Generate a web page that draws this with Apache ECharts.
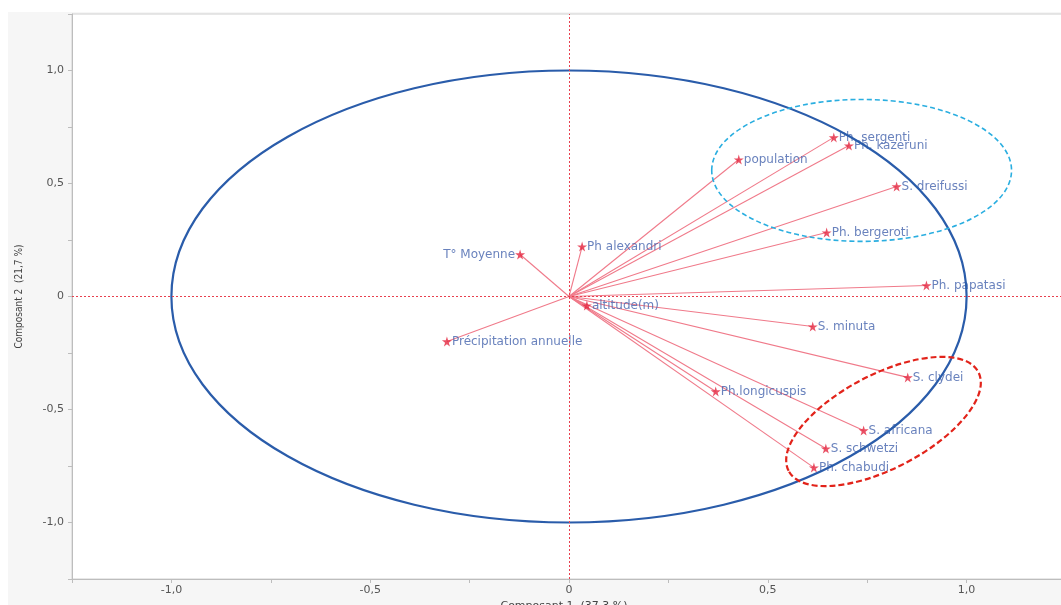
<!DOCTYPE html>
<html><head><meta charset="utf-8">
<script src="https://cdn.jsdelivr.net/npm/echarts@6/dist/echarts.min.js"></script>
<style>html,body{margin:0;padding:0;background:#fff}#c{width:1061px;height:605px}</style>
</head><body><div id="c"></div>
<script>
// Variables (loadings on components 1 and 2)
const variables = ['Ph. sergenti','Ph. kazeruni','population','S. dreifussi','Ph. bergeroti','Ph alexandri','T° Moyenne','Ph. papatasi','altitude(m)','S. minuta','Précipitation annuelle','S. clydei','Ph.longicuspis','S. africana','S. schwetzi','Ph. chabudi'];
const comp1 = [0.666, 0.704, 0.427, 0.824, 0.648, 0.033, -0.123, 0.899, 0.045, 0.613, -0.307, 0.852, 0.369, 0.741, 0.646, 0.616];
const comp2 = [0.704, 0.668, 0.606, 0.487, 0.283, 0.221, 0.186, 0.049, -0.040, -0.133, -0.199, -0.358, -0.420, -0.593, -0.673, -0.757];
const labelsOnLeft = ['T° Moyenne'];
// Ellipses: [centerX, centerY, radiusX (x units), radiusY (y units), rotation deg]
const unitCircle = [0, 0, 1, 1, 0];
const groupTop = [0.736, 0.558, 0.377, 0.314, 0];
const groupBottom = [0.791, -0.553, 0.269, 0.208, 27.5];
const xName = 'Composant 1  (37,3 %)';
const yName = 'Composant 2  (21,7 %)';

const chart = echarts.init(document.getElementById('c'));
const fmt = v => {
  if (Math.abs(v * 2 - Math.round(v * 2)) > 1e-6) return '';
  if (Math.abs(v) < 1e-9) return '0';
  return v.toFixed(1).replace('.', ',');
};
const starPath = 'path://M50,0 L61,35 L98,35 L68,57 L79,91 L50,70 L21,91 L32,57 L2,35 L39,35 Z';

function ellipseSeries(params, color, width, dash, z) {
  return {
    type: 'custom', z: z, silent: true, clip: false,
    data: [params],
    renderItem: function (p, api) {
      const c = api.coord([api.value(0), api.value(1)]);
      const rx = api.size([api.value(2), 0])[0];
      const ry = api.size([0, api.value(3)])[1];
      return {
        type: 'ellipse',
        x: c[0], y: c[1],
        rotation: api.value(4) * Math.PI / 180,
        shape: { cx: 0, cy: 0, rx: rx, ry: ry },
        style: { fill: 'none', stroke: color, lineWidth: width, lineDash: dash }
      };
    }
  };
}

const axisCommon = {
  type: 'value', interval: 0.25,
  axisLine: { show: true, onZero: false, lineStyle: { color: '#bdbdbd' } },
  axisTick: { show: true, length: 4, lineStyle: { color: '#bdbdbd' } },
  splitLine: { show: false },
  axisLabel: { formatter: fmt, color: '#555', fontSize: 11, fontFamily: 'DejaVu Sans' },
  nameLocation: 'middle',
  nameTextStyle: { color: '#444', fontFamily: 'DejaVu Sans', fontSize: 11 }
};

chart.setOption({
  animation: false,
  backgroundColor: '#f6f6f6',
  graphic: [
    { type: 'rect', shape: { x: 0, y: 0, width: 1061, height: 12 }, style: { fill: '#fff' }, z: -10, silent: true },
    { type: 'rect', shape: { x: 0, y: 0, width: 8, height: 605 }, style: { fill: '#fff' }, z: -10, silent: true }
  ],
  grid: { left: 72, right: -5, top: 14, bottom: 26, outerBoundsMode: 'none', containLabel: false,
    show: true, backgroundColor: '#fff', borderColor: '#d0d0d0', borderWidth: 1 },
  xAxis: Object.assign({}, axisCommon, { min: -1.25, max: 1.25, name: xName, nameGap: 21,
    nameTextStyle: { color: '#444', fontFamily: 'DejaVu Sans', fontSize: 11, padding: [0, 10, 0, 0] },
    axisLabel: Object.assign({}, axisCommon.axisLabel, { margin: 6 }) }),
  yAxis: Object.assign({}, axisCommon, { min: -1.25, max: 1.25, name: yName, nameGap: 48,
    nameTextStyle: { color: '#444', fontFamily: 'DejaVu Sans Condensed', fontSize: 10 },
    axisLabel: Object.assign({}, axisCommon.axisLabel, { margin: 8 }) }),
  series: [
    {
      type: 'custom', z: 2, silent: true,
      data: variables.map((n, i) => [comp1[i], comp2[i]]),
      renderItem: function (p, api) {
        const o = api.coord([0, 0]);
        const q = api.coord([api.value(0), api.value(1)]);
        return { type: 'line', shape: { x1: o[0], y1: o[1], x2: q[0], y2: q[1] },
          style: { stroke: '#f07a8a', lineWidth: 1.1 } };
      }
    },
    {
      type: 'scatter', z: 3, symbol: starPath, symbolSize: 10,
      itemStyle: { color: '#e3263f' },
      label: { show: true, position: 'right', distance: 0, color: '#4463ad', fontSize: 12, fontFamily: 'DejaVu Sans',
        formatter: p => p.name },
      data: variables.map((n, i) => {
        const d = { name: n, value: [comp1[i], comp2[i]] };
        if (labelsOnLeft.indexOf(n) >= 0) d.label = { position: 'left', distance: 0 };
        return d;
      }),
      markLine: {
        silent: true, symbol: 'none', label: { show: false },
        lineStyle: { color: '#e8404f', type: [2, 2], width: 1 },
        data: [{ xAxis: 0 }, { yAxis: 0 }]
      }
    },
    ellipseSeries(unitCircle, '#2a5caa', 2.2, null, 4),
    ellipseSeries(groupTop, '#2aaee0', 1.6, [5, 3], 4),
    ellipseSeries(groupBottom, '#e2231a', 2.2, [6, 3], 4)
  ]
});
</script></body></html>
